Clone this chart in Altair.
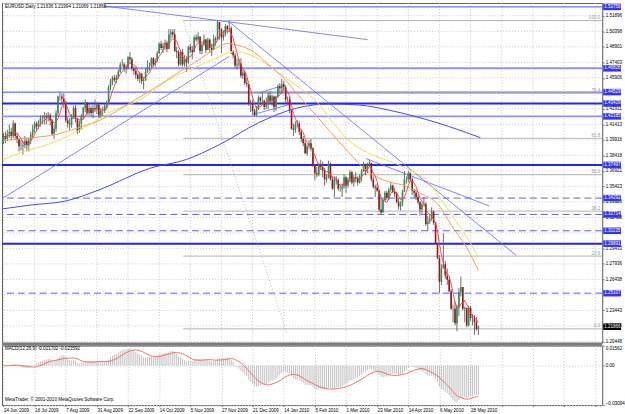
import json
import altair as alt
import pandas as pd

# ---------------- data ----------------
date_labels = ["24 Jun 2009", "16 Jul 2009", "7 Aug 2009", "31 Aug 2009", "22 Sep 2009",
               "14 Oct 2009", "5 Nov 2009", "27 Nov 2009", "21 Dec 2009", "14 Jan 2010",
               "5 Feb 2010", "1 Mar 2010", "23 Mar 2010", "14 Apr 2010", "6 May 2010", "28 May 2010"]

first_open = 1.3985
close = [
    1.4030, 1.4000, 1.4050, 1.4070, 1.4030, 1.4150, 1.4030, 1.4000, 1.3930, 1.3930,
    1.3940, 1.3980, 1.3940, 1.3990, 1.4040, 1.4100, 1.4150, 1.4120, 1.4150, 1.4200,
    1.4200, 1.4220, 1.4210, 1.4230, 1.4180, 1.4050, 1.4100, 1.4250, 1.4410, 1.4410,
    1.4390, 1.4350, 1.4180, 1.4150, 1.4140, 1.4220, 1.4300, 1.4200, 1.4080, 1.4150,
    1.4220, 1.4300, 1.4350, 1.4250, 1.4300, 1.4250, 1.4300, 1.4290, 1.4330, 1.4230,
    1.4270, 1.4270, 1.4320, 1.4350, 1.4500, 1.4560, 1.4590, 1.4570, 1.4600, 1.4650,
    1.4720, 1.4720, 1.4690, 1.4680, 1.4790, 1.4770, 1.4680, 1.4660, 1.4620, 1.4580,
    1.4630, 1.4560, 1.4570, 1.4650, 1.4700, 1.4700, 1.4780, 1.4720, 1.4760, 1.4830,
    1.4920, 1.4880, 1.4900, 1.4930, 1.4870, 1.5010, 1.5030, 1.5010, 1.4850, 1.4840,
    1.4720, 1.4840, 1.4720, 1.4770, 1.4740, 1.4890, 1.4860, 1.4840, 1.4980, 1.4960,
    1.4990, 1.4850, 1.4910, 1.4960, 1.4860, 1.4960, 1.4880, 1.4860, 1.4970, 1.4960,
    1.5130, 1.5060, 1.4980, 1.5010, 1.5090, 1.5060, 1.5070, 1.4850, 1.4810, 1.4710,
    1.4720, 1.4730, 1.4610, 1.4640, 1.4540, 1.4530, 1.4340, 1.4340, 1.4270, 1.4230,
    1.4290, 1.4400, 1.4370, 1.4370, 1.4310, 1.4330, 1.4420, 1.4370, 1.4410, 1.4310,
    1.4410, 1.4510, 1.4490, 1.4530, 1.4500, 1.4380, 1.4380, 1.4280, 1.4100, 1.4090,
    1.4140, 1.4150, 1.4070, 1.4000, 1.3960, 1.3860, 1.3930, 1.3960, 1.3910, 1.3740,
    1.3670, 1.3660, 1.3750, 1.3730, 1.3700, 1.3610, 1.3630, 1.3760, 1.3610, 1.3520,
    1.3610, 1.3600, 1.3520, 1.3520, 1.3540, 1.3630, 1.3550, 1.3610, 1.3680, 1.3580,
    1.3630, 1.3620, 1.3580, 1.3640, 1.3690, 1.3760, 1.3690, 1.3750, 1.3770, 1.3610,
    1.3540, 1.3530, 1.3500, 1.3320, 1.3290, 1.3410, 1.3480, 1.3430, 1.3510, 1.3550,
    1.3490, 1.3470, 1.3390, 1.3350, 1.3370, 1.3490, 1.3610, 1.3610, 1.3670, 1.3610,
    1.3500, 1.3480, 1.3440, 1.3390, 1.3320, 1.3370, 1.3370, 1.3180, 1.3200, 1.3230,
    1.3300, 1.3190, 1.2990, 1.2850, 1.2620, 1.2750, 1.2790, 1.2680, 1.2640, 1.2530,
    1.2360, 1.2360, 1.2220, 1.2380, 1.2520, 1.2570, 1.2360, 1.2370, 1.2200, 1.2370,
    1.2270, 1.2270, 1.2230, 1.2164, 1.2187]
high = [
    1.4060, 1.4070, 1.4090, 1.4140, 1.4110, 1.4180, 1.4160, 1.4060, 1.4010, 1.3990,
    1.3980, 1.4030, 1.4010, 1.4010, 1.4070, 1.4140, 1.4170, 1.4170, 1.4180, 1.4230,
    1.4230, 1.4260, 1.4250, 1.4260, 1.4250, 1.4190, 1.4140, 1.4280, 1.4420, 1.4450,
    1.4440, 1.4440, 1.4370, 1.4210, 1.4200, 1.4240, 1.4320, 1.4330, 1.4200, 1.4180,
    1.4240, 1.4310, 1.4380, 1.4360, 1.4340, 1.4320, 1.4330, 1.4380, 1.4350, 1.4340,
    1.4300, 1.4310, 1.4340, 1.4370, 1.4520, 1.4580, 1.4610, 1.4620, 1.4620, 1.4670,
    1.4740, 1.4770, 1.4740, 1.4720, 1.4800, 1.4840, 1.4790, 1.4700, 1.4690, 1.4640,
    1.4650, 1.4640, 1.4600, 1.4680, 1.4760, 1.4740, 1.4790, 1.4790, 1.4780, 1.4850,
    1.4930, 1.4950, 1.4930, 1.4960, 1.4950, 1.5060, 1.5060, 1.5060, 1.5060, 1.4890,
    1.4860, 1.4860, 1.4870, 1.4810, 1.4800, 1.4900, 1.4920, 1.4900, 1.5000, 1.5010,
    1.5030, 1.4990, 1.4930, 1.5010, 1.4970, 1.4980, 1.4970, 1.4920, 1.5010, 1.4990,
    1.5144, 1.5120, 1.5070, 1.5050, 1.5110, 1.5100, 1.5140, 1.5090, 1.4860, 1.4830,
    1.4780, 1.4770, 1.4780, 1.4670, 1.4660, 1.4590, 1.4530, 1.4380, 1.4380, 1.4290,
    1.4320, 1.4420, 1.4410, 1.4450, 1.4380, 1.4400, 1.4450, 1.4460, 1.4430, 1.4420,
    1.4420, 1.4530, 1.4540, 1.4580, 1.4560, 1.4520, 1.4410, 1.4410, 1.4280, 1.4150,
    1.4170, 1.4180, 1.4170, 1.4090, 1.4030, 1.3990, 1.3950, 1.3990, 1.4000, 1.3920,
    1.3760, 1.3730, 1.3770, 1.3800, 1.3780, 1.3720, 1.3660, 1.3790, 1.3770, 1.3640,
    1.3640, 1.3640, 1.3620, 1.3560, 1.3570, 1.3660, 1.3640, 1.3630, 1.3700, 1.3690,
    1.3650, 1.3680, 1.3640, 1.3660, 1.3710, 1.3780, 1.3760, 1.3770, 1.3800, 1.3770,
    1.3640, 1.3560, 1.3570, 1.3510, 1.3430, 1.3420, 1.3500, 1.3500, 1.3530, 1.3580,
    1.3560, 1.3530, 1.3490, 1.3430, 1.3400, 1.3510, 1.3690, 1.3640, 1.3690, 1.3680,
    1.3630, 1.3520, 1.3510, 1.3460, 1.3400, 1.3390, 1.3440, 1.3390, 1.3260, 1.3280,
    1.3340, 1.3310, 1.3200, 1.3000, 1.2880, 1.2790, 1.3090, 1.2820, 1.2750, 1.2670,
    1.2550, 1.2400, 1.2430, 1.2400, 1.2560, 1.2670, 1.2570, 1.2380, 1.2370, 1.2390,
    1.2390, 1.2310, 1.2300, 1.2280, 1.2199]
low = [
    1.3950, 1.3960, 1.3980, 1.4010, 1.3990, 1.4010, 1.3990, 1.3960, 1.3880, 1.3890,
    1.3850, 1.3910, 1.3880, 1.3880, 1.3950, 1.4010, 1.4060, 1.4080, 1.4100, 1.4120,
    1.4140, 1.4140, 1.4140, 1.4170, 1.4130, 1.4030, 1.4000, 1.4070, 1.4220, 1.4370,
    1.4340, 1.4300, 1.4160, 1.4110, 1.4090, 1.4110, 1.4200, 1.4160, 1.4050, 1.4060,
    1.4090, 1.4190, 1.4260, 1.4230, 1.4230, 1.4220, 1.4200, 1.4260, 1.4240, 1.4200,
    1.4200, 1.4220, 1.4250, 1.4300, 1.4340, 1.4470, 1.4520, 1.4550, 1.4540, 1.4580,
    1.4640, 1.4700, 1.4650, 1.4630, 1.4670, 1.4730, 1.4660, 1.4620, 1.4580, 1.4560,
    1.4540, 1.4530, 1.4480, 1.4560, 1.4640, 1.4660, 1.4690, 1.4700, 1.4700, 1.4740,
    1.4820, 1.4860, 1.4830, 1.4860, 1.4840, 1.4880, 1.4960, 1.4980, 1.4840, 1.4780,
    1.4700, 1.4710, 1.4700, 1.4700, 1.4650, 1.4720, 1.4830, 1.4770, 1.4850, 1.4940,
    1.4930, 1.4820, 1.4820, 1.4900, 1.4830, 1.4860, 1.4830, 1.4800, 1.4870, 1.4900,
    1.4950, 1.4960, 1.4830, 1.4950, 1.4990, 1.5020, 1.5040, 1.4820, 1.4780, 1.4680,
    1.4670, 1.4690, 1.4590, 1.4580, 1.4520, 1.4500, 1.4320, 1.4260, 1.4240, 1.4220,
    1.4220, 1.4280, 1.4330, 1.4330, 1.4280, 1.4290, 1.4290, 1.4340, 1.4320, 1.4260,
    1.4270, 1.4400, 1.4440, 1.4440, 1.4460, 1.4350, 1.4330, 1.4250, 1.4090, 1.4030,
    1.4060, 1.4110, 1.4040, 1.3970, 1.3930, 1.3860, 1.3840, 1.3900, 1.3880, 1.3730,
    1.3600, 1.3630, 1.3640, 1.3700, 1.3630, 1.3550, 1.3580, 1.3620, 1.3600, 1.3510,
    1.3440, 1.3560, 1.3500, 1.3490, 1.3440, 1.3520, 1.3480, 1.3530, 1.3580, 1.3560,
    1.3540, 1.3580, 1.3550, 1.3570, 1.3590, 1.3680, 1.3650, 1.3670, 1.3730, 1.3590,
    1.3520, 1.3440, 1.3490, 1.3300, 1.3270, 1.3300, 1.3400, 1.3410, 1.3410, 1.3490,
    1.3480, 1.3440, 1.3380, 1.3320, 1.3310, 1.3350, 1.3490, 1.3570, 1.3580, 1.3590,
    1.3460, 1.3430, 1.3410, 1.3370, 1.3260, 1.3280, 1.3350, 1.3160, 1.3110, 1.3180,
    1.3210, 1.3170, 1.2990, 1.2840, 1.2510, 1.2590, 1.2750, 1.2650, 1.2590, 1.2520,
    1.2350, 1.2230, 1.2200, 1.2143, 1.2290, 1.2480, 1.2340, 1.2230, 1.2180, 1.2190,
    1.2240, 1.2200, 1.2111, 1.2150, 1.2107]

# price scale labels that are not hidden behind the level boxes
price_ticks = [1.20448, 1.21946, 1.23443, 1.26438, 1.27936, 1.29433,
               1.32428, 1.33926, 1.35423, 1.36921, 1.38418, 1.39916, 1.41413, 1.42911,
               1.45906, 1.47403, 1.48901, 1.50398, 1.51896]
grid_prices = [1.20448, 1.21946, 1.23443, 1.24941, 1.26438, 1.27936, 1.29433, 1.30931,
               1.32428, 1.33926, 1.35423, 1.36921, 1.38418, 1.39916, 1.41413, 1.42911,
               1.44408, 1.45906, 1.47403, 1.48901, 1.50398, 1.51896]
macd_ticks = [0.01562, 0.0, -0.03094]

orange_bar = [0, 14, 24, 40, 50, 60, 70, 80, 90, 100, 108, 115, 121, 129, 136, 144, 151, 159,
              167, 177, 187, 197, 207, 214, 223, 231, 238, 244]
orange_val = [1.3984, 1.4013, 1.4032, 1.4118, 1.4185, 1.4290, 1.4405, 1.4520, 1.4644, 1.4759,
              1.4864, 1.4922, 1.4903, 1.4836, 1.4721, 1.4587, 1.4434, 1.4262, 1.4089, 1.3879,
              1.3688, 1.3592, 1.3544, 1.3477, 1.3372, 1.3142, 1.2951, 1.2731]
yellow_bar = [0, 9, 24, 45, 55, 70, 87, 101, 111, 118, 126, 134, 141, 151, 162, 169, 177, 187,
              200, 210, 218, 224, 231, 238, 244]
yellow_val = [1.3802, 1.3869, 1.3955, 1.4147, 1.4262, 1.4376, 1.4596, 1.4711, 1.4797, 1.4845,
              1.4817, 1.4740, 1.4644, 1.4510, 1.4338, 1.4166, 1.3994, 1.3869, 1.3774, 1.3688,
              1.3592, 1.3439, 1.3247, 1.3056, 1.2855]
blue_bar = [-1, 14, 32, 50, 75, 94, 111, 131, 151, 167, 182, 202, 223, 245]
blue_val = [1.3324, 1.3362, 1.3401, 1.3515, 1.3716, 1.3802, 1.3946, 1.4156, 1.4300, 1.4338,
            1.4329, 1.4262, 1.4156, 1.4013]

trend_bar1 = [39.7, -1.0, 115.9, 186.1, 127.6, 131.2]
trend_p1 = [1.5314, 1.3420, 1.5132, 1.3812, 1.4233, 1.4443]
trend_bar2 = [187.1, 115.9, 263.5, 249.6, 147.9, 142.3]
trend_p2 = [1.4960, 1.4797, 1.2875, 1.3353, 1.4338, 1.4510]

fib_high = 1.5144
fib_low = 1.2166
fib_levels = [0.0, 23.6, 38.2, 50.0, 61.8, 76.4, 100.0]
fib_start_bar = 92.4
fib_diag_bar = [92.4, 145.4]
fib_diag_price = [1.5144, 1.2138]

hl_thin = [1.52758, 1.44529]
hl_thick = [1.43429, 1.37497, 1.29891]
hl_light = [1.46826, 1.42185]
hl_dashed = [1.34292, 1.32714, 1.31135, 1.25107]
current_price = 1.21866

title_text = "EURUSD,Daily  1.21636 1.21994 1.21069 1.21866"
macd_text = "MACD(12,26,9) -0.021702 -0.023592"
copyright_text = "MetaTrader, \u00a9 2001-2010 MetaQuotes Software Corp."

# ---------------- tables ----------------
n = len(close)
cdf = pd.DataFrame({"i": list(range(n)), "o": [first_open] + close[:-1],
                    "h": high, "l": low, "c": close})
cdf["hi"] = cdf[["h", "o", "c"]].max(axis=1)
cdf["lo"] = cdf[["l", "o", "c"]].min(axis=1)
ema12 = cdf["c"].ewm(span=12, adjust=False).mean()
ema26 = cdf["c"].ewm(span=26, adjust=False).mean()
cdf["macd"] = ema12 - ema26
cdf["signal"] = cdf["macd"].rolling(9, min_periods=1).mean()
cdf["zero"] = 0.0

W, H_MAIN, H_MACD = 606, 343, 60
FS = 4.6
GRID = "#c8c8c8"
XS = alt.Scale(domain=[-0.763, 307.63], nice=False, zero=False)
YS = alt.Scale(domain=[1.20324, 1.53140], nice=False, zero=False)
MS = alt.Scale(domain=[-0.03094, 0.01562], nice=False, zero=False)
grid_vals = list(range(0, 305, 16))

y_main_axis = alt.Axis(orient="right", values=price_ticks, format=".5f", grid=False,
                       tickSize=2, labelPadding=1, domain=False, title=None, labelOverlap=False)
date_expr = ("datum.value <= 240 ? " + json.dumps(date_labels) +
             "[round(datum.value / 16)] : ''")
x_macd_axis = alt.Axis(values=grid_vals, labelExpr=date_expr, labelAlign="left",
                       labelBaseline="top", labelPadding=0.5, tickSize=1.5, grid=True,
                       gridColor=GRID, gridDash=[1, 2], domain=False, title=None,
                       labelOverlap=False, labelFlush=False)
y_macd_axis = alt.Axis(orient="right", values=macd_ticks,
                       labelExpr="datum.value == 0 ? '0.00' : format(datum.value, '.5f')",
                       tickSize=2, labelPadding=1, grid=True, gridColor=GRID, gridDash=[1, 2],
                       domain=False, title=None, labelFlush=True, labelOverlap=False)


def mx(f):
    return alt.X(f, type="quantitative", scale=XS, axis=None)


def my(f):
    return alt.Y(f, type="quantitative", scale=YS, axis=y_main_axis)


def qx(f):
    return alt.X(f, type="quantitative", scale=XS, axis=x_macd_axis)


def qy(f):
    return alt.Y(f, type="quantitative", scale=MS, axis=y_macd_axis)


def hrule(prices, color, width, dash=None):
    kw = dict(color=color, strokeWidth=width)
    if dash:
        kw["strokeDash"] = dash
    return alt.Chart(pd.DataFrame({"p": prices})).mark_rule(**kw).encode(y=my("p"))


layers = []
# dotted grid of the price panel
layers.append(alt.Chart(pd.DataFrame({"g": grid_vals})).mark_rule(
    color=GRID, strokeWidth=1, strokeDash=[1, 2]).encode(x=mx("g")))
layers.append(hrule(grid_prices, GRID, 1, [1, 2]))
# horizontal levels
layers.append(hrule(hl_light, "#8f8fff", 2))
layers.append(hrule(hl_thin, "#4848ff", 1))
layers.append(hrule(hl_thick, "#2424f0", 2))
layers.append(hrule(hl_dashed, "#5a5aff", 1, [7, 4]))

# fibonacci
fdf = pd.DataFrame({"lev": fib_levels})
fdf["p"] = fib_low + (fib_high - fib_low) * fdf["lev"] / 100.0
fdf["lab"] = [f"{v:.1f}" for v in fib_levels]
fdf["s"] = fib_start_bar
layers.append(alt.Chart(fdf).mark_rule(color="#b4b4b4", strokeWidth=1).encode(
    y=my("p"), x=mx("s"), x2=alt.value(W)))
layers.append(alt.Chart(fdf).mark_text(align="right", baseline="bottom", dy=-0.5, fontSize=FS,
                                       color="#9a9a9a").encode(
    y=my("p"), x=alt.value(604), text="lab"))
ddf = pd.DataFrame({"b": fib_diag_bar, "p": fib_diag_price})
layers.append(alt.Chart(ddf).mark_line(color="#a8a8a8", strokeDash=[1, 2], strokeWidth=0.8).encode(
    x=mx("b"), y=my("p")))

# trend lines
tdf = pd.DataFrame({"b1": trend_bar1, "p1": trend_p1, "b2": trend_bar2, "p2": trend_p2})
layers.append(alt.Chart(tdf).mark_rule(color="#6464ff", strokeWidth=0.8, clip=True).encode(
    x=mx("b1"), y=my("p1"), x2="b2", y2="p2"))

# candles
layers.append(alt.Chart(cdf).mark_rule(color="#5c5c5c", strokeWidth=0.9).encode(
    x=mx("i"), y=my("lo"), y2="hi"))
layers.append(alt.Chart(cdf).mark_rule(strokeWidth=1.6).encode(
    x=mx("i"), y=my("o"), y2="c",
    color=alt.condition(alt.datum.c >= alt.datum.o, alt.value("#2f8f55"), alt.value("#8e1a1a"))))

# moving averages
for bars, vals, col in [(blue_bar, blue_val, "#4646ff"), (yellow_bar, yellow_val, "#f2e04a"),
                        (orange_bar, orange_val, "#f3a055")]:
    layers.append(alt.Chart(pd.DataFrame({"b": bars, "v": vals})).mark_line(
        interpolate="monotone", color=col, strokeWidth=1, clip=True).encode(x=mx("b"), y=my("v")))
layers.append(alt.Chart(cdf).transform_window(
    ma="mean(c)", frame=[-4, 0], sort=[alt.SortField("i")]).mark_line(
    color="#ff3838", strokeWidth=0.9).encode(x=mx("i"), y=my("ma")))

# price boxes on the axis
bdf = pd.DataFrame({"p": hl_thin + hl_thick + hl_light + hl_dashed})
bdf["lab"] = [f"{v:.5f}" for v in bdf["p"]]
layers.append(alt.Chart(bdf).mark_rect(color="#3434f2", yOffset=-3.3, y2Offset=3.3).encode(
    y=my("p"), y2="p", x=alt.value(607), x2=alt.value(625)))
layers.append(alt.Chart(bdf).mark_text(color="white", fontSize=FS, align="left",
                                       baseline="middle").encode(
    y=my("p"), x=alt.value(608), text="lab"))
cpdf = pd.DataFrame({"p": [current_price], "lab": [f"{current_price:.5f}"]})
layers.append(alt.Chart(cpdf).mark_rect(color="#000000", yOffset=-3.3, y2Offset=3.3).encode(
    y=my("p"), y2="p", x=alt.value(607), x2=alt.value(625)))
layers.append(alt.Chart(cpdf).mark_text(color="white", fontSize=FS, align="left",
                                        baseline="middle").encode(
    y=my("p"), x=alt.value(608), text="lab"))

# title
tt = pd.DataFrame({"t": [title_text]})
layers.append(alt.Chart(tt).mark_rect(color="white").encode(
    x=alt.value(1), x2=alt.value(103), y=alt.value(0.5), y2=alt.value(8)))
layers.append(alt.Chart(tt).mark_text(align="left", baseline="middle", fontSize=FS,
                                      color="#000").encode(
    x=alt.value(3), y=alt.value(4.5), text="t"))

main = alt.layer(*layers).properties(width=W, height=H_MAIN)

# ---------------- MACD panel ----------------
mlayers = []
mlayers.append(alt.Chart(cdf).mark_rule(color="#b9b9b9", strokeWidth=0.9).encode(
    x=qx("i"), y=qy("macd"), y2="zero"))
mlayers.append(alt.Chart(cdf).mark_line(color="#ff5c5c", strokeWidth=0.9, clip=True).encode(
    x=qx("i"), y=qy("signal")))
mt = pd.DataFrame({"t": [macd_text], "c": [copyright_text]})
mlayers.append(alt.Chart(mt).mark_text(align="left", baseline="middle", fontSize=FS,
                                       color="#000").encode(
    x=alt.value(3), y=alt.value(3.5), text="t"))
mlayers.append(alt.Chart(mt).mark_text(align="left", baseline="middle", fontSize=FS,
                                       color="#000").encode(
    x=alt.value(3), y=alt.value(55), text="c"))
mlayers.append(alt.Chart(mt).mark_rule(color="#7c7c7c", strokeWidth=3).encode(
    x=alt.value(0), x2=alt.value(W), y=alt.value(-1.5)))
macd = alt.layer(*mlayers).properties(width=W, height=H_MACD)

chart = alt.vconcat(main, macd, spacing=3, bounds="flush").properties(
    padding=0, background="white"
).configure_view(stroke="#5a5a5a", strokeWidth=1).configure_axis(
    labelFont="Liberation Sans", labelFontSize=FS, labelColor="#000000",
    tickColor="#5a5a5a", tickWidth=0.8
).configure_text(font="Liberation Sans")

chart.save("out.html", embed_options={"renderer": "svg", "actions": False})
